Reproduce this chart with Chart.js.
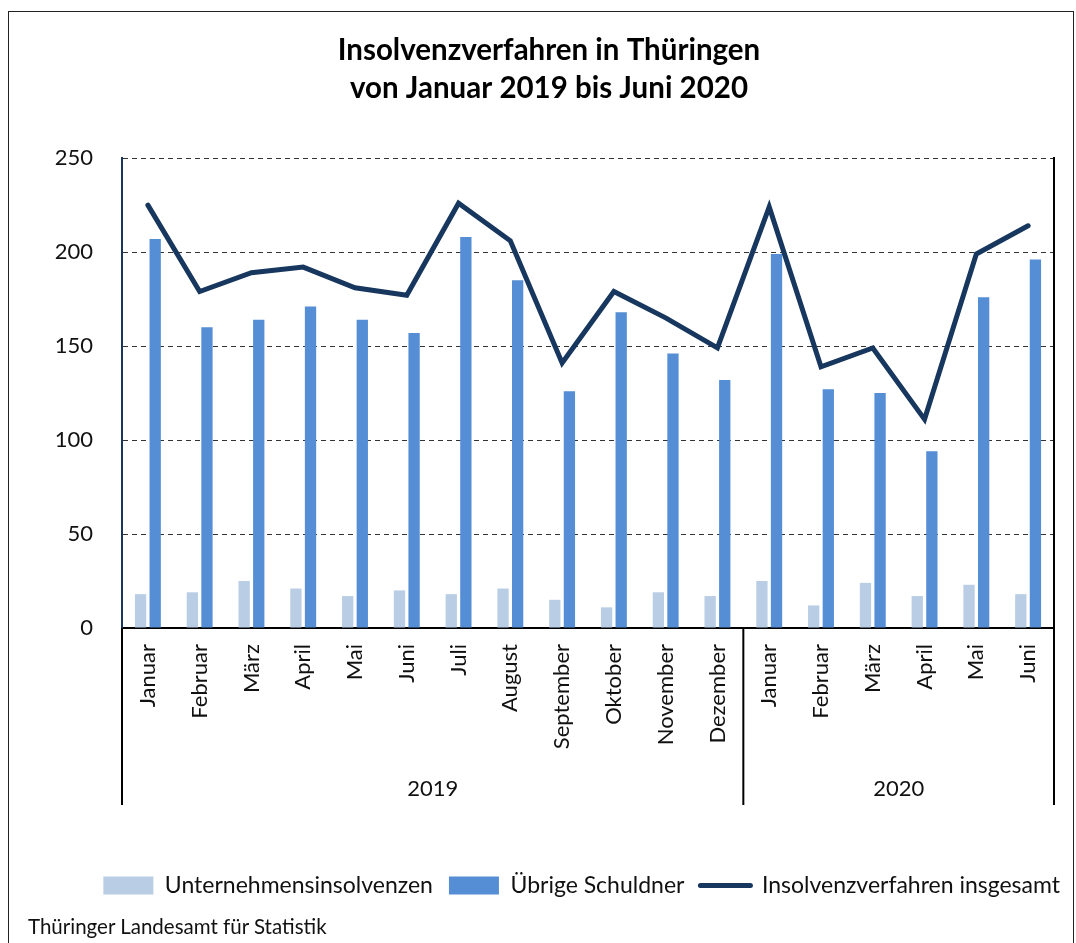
<!DOCTYPE html>
<html>
<head>
<meta charset="utf-8">
<script src="https://cdn.jsdelivr.net/npm/chart.js@4"></script>
<style>
  body { margin: 0; background: #fff; }
  #wrap { position: relative; width: 1076px; height: 943px; }
  #frame { position: absolute; left: 8px; top: 11px; width: 1064px; height: 940px;
           border: 1.5px solid #222; border-bottom: none; pointer-events: none; }
  #source { position: absolute; left: 28px; top: 914px; font: 20.5px Lato; color: #111; }
</style>
</head>
<body>
<div id="wrap">
  <canvas id="chart" width="1076" height="943"></canvas>
  <div id="frame"></div>
  <div id="source">Thüringer Landesamt für Statistik</div>
</div>
<script>
// Daten
const months = ['Januar', 'Februar', 'März', 'April', 'Mai', 'Juni', 'Juli', 'August',
    'September', 'Oktober', 'November', 'Dezember',
    'Januar', 'Februar', 'März', 'April', 'Mai', 'Juni'];
const years = ['2019', '2020'];
const yearLengths = [12, 6];

const unternehmen = [18, 19, 25, 21, 17, 20, 18, 21, 15, 11, 19, 17, 25, 12, 24, 17, 23, 18];
const uebrige = [207, 160, 164, 171, 164, 157, 208, 185, 126, 168, 146, 132, 199, 127, 125, 94, 176, 196];
const insgesamt = [225, 179, 189, 192, 181, 177, 226, 206, 141, 179, 165, 149, 224, 139, 149, 111, 199, 214];

const yMin = 0, yMax = 250, yStep = 50;

Chart.defaults.font.family = 'Lato';
Chart.defaults.color = '#111';

// Jahresgruppen unter der Achse
const yearGroups = {
    id: 'yearGroups',
    afterDraw(chart) {
        const ctx = chart.ctx;
        const x = chart.scales.x;
        const area = chart.chartArea;
        const bottom = area.bottom + 177;
        const half = (x.getPixelForTick(1) - x.getPixelForTick(0)) / 2;
        ctx.save();
        ctx.strokeStyle = '#000';
        ctx.lineWidth = 2;
        let start = 0;
        const edges = [area.left];
        years.forEach((yr, i) => {
            const end = start + yearLengths[i] - 1;
            const right = i === years.length - 1 ? area.right : x.getPixelForTick(end) + half;
            edges.push(right);
            ctx.font = '22px Lato';
            ctx.fillStyle = '#111';
            ctx.textAlign = 'center';
            ctx.textBaseline = 'middle';
            ctx.fillText(yr, (edges[i] + right) / 2, area.bottom + 161);
            start = end + 1;
        });
        edges.forEach(e => {
            ctx.beginPath();
            ctx.moveTo(e, area.bottom);
            ctx.lineTo(e, bottom);
            ctx.stroke();
        });
        ctx.restore();
    }
};

new Chart(document.getElementById('chart'), {
    type: 'bar',
    data: {
        labels: months,
        datasets: [
            {
                label: 'Unternehmensinsolvenzen',
                data: unternehmen,
                backgroundColor: '#B9CDE5',
                pointStyle: 'rect',
                categoryPercentage: 0.564,
                barPercentage: 0.774,
                order: 1
            },
            {
                label: 'Übrige Schuldner',
                data: uebrige,
                backgroundColor: '#558ED5',
                pointStyle: 'rect',
                categoryPercentage: 0.564,
                barPercentage: 0.774,
                order: 1
            },
            {
                type: 'line',
                label: 'Insolvenzverfahren insgesamt',
                data: insgesamt,
                borderColor: '#17375E',
                backgroundColor: '#17375E',
                borderWidth: 5,
                borderCapStyle: 'round',
                tension: 0,
                pointRadius: 0,
                pointHoverRadius: 0,
                pointStyle: 'line',
                pointBorderWidth: 5,
                pointBorderColor: '#17375E',
                order: 0
            }
        ]
    },
    options: {
        responsive: false,
        animation: false,
        layout: { padding: { left: 22, right: 0, top: 0, bottom: 36 } },
        plugins: {
            title: {
                display: true,
                text: ['Insolvenzverfahren in Thüringen', 'von Januar 2019 bis Juni 2020'],
                color: '#000',
                font: { size: 29.5, weight: 'bold', lineHeight: 1.29 },
                padding: { top: 31, bottom: 51 }
            },
            legend: {
                position: 'bottom',
                align: 'end',
                labels: {
                    usePointStyle: true,
                    pointStyleWidth: 50,
                    boxHeight: 18,
                    padding: 16,
                    color: '#111',
                    font: { size: 23 },
                    sort: (a, b) => a.datasetIndex - b.datasetIndex,
                    generateLabels(chart) {
                        const items = Chart.defaults.plugins.legend.labels.generateLabels(chart);
                        items.forEach(it => { if (it.pointStyle === 'line') it.lineCap = 'round'; });
                        return items;
                    }
                }
            },
            tooltip: { enabled: false }
        },
        scales: {
            x: {
                grid: { display: false, drawTicks: false },
                border: { display: true, color: '#000', width: 2 },
                ticks: { minRotation: 90, maxRotation: 90, autoSkip: false, padding: 16, font: { size: 22 }, color: '#111' },
                afterFit(scale) { scale.height = 230; }
            },
            y: {
                min: yMin,
                max: yMax,
                ticks: { stepSize: yStep, padding: 29, font: { size: 22 }, color: '#111' },
                grid: { color: '#333', lineWidth: 1, drawTicks: false },
                border: { display: true, color: '#17375E', width: 2, dash: [5, 4] },
                afterFit(scale) { scale.width = 100; }
            },
            y2: {
                position: 'right',
                min: yMin,
                max: yMax,
                ticks: { display: false },
                grid: { display: false, drawTicks: false },
                border: { display: true, color: '#000', width: 2 },
                afterFit(scale) { scale.width = 22; }
            }
        }
    },
    plugins: [yearGroups]
});
</script>
</body>
</html>
